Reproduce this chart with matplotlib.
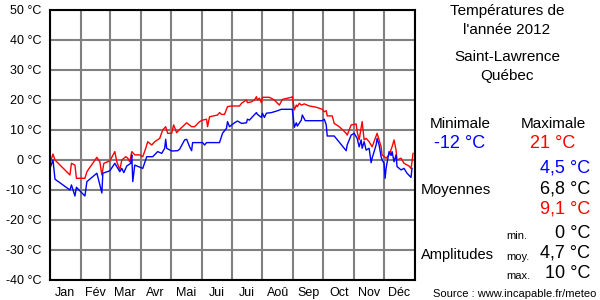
import matplotlib
matplotlib.use("Agg")
import matplotlib.pyplot as plt

plt.rcParams['font.family'] = ['Liberation Sans', 'DejaVu Sans']

# day of year (0 = 1 Jan 2012) and daily temperatures
max_days = [0, 3, 5, 20, 21.5, 25, 26.5, 35, 37, 47, 50, 52, 54, 60, 65, 67, 70, 72,
            76, 78, 80, 82, 85, 90, 93, 96, 98, 102, 105, 110, 113, 116, 118, 122,
            124, 127, 130, 137, 142, 145, 150, 153, 157, 158, 160, 168, 170, 172,
            175, 178, 182, 190, 192, 197, 198, 202, 205, 207, 208, 210, 212, 213,
            220, 225, 230, 233, 242, 243, 245, 247, 248, 250, 252, 255, 260, 267,
            273, 275, 277, 278, 283, 285, 290, 293, 297, 298, 302, 307, 308, 310,
            313, 315, 317, 320, 323, 328, 330, 332, 333, 337, 340, 343, 345, 347,
            348, 352, 355, 360, 362, 363, 364]
max_temp = [-1.1, 2, 0, -5, -1.1, -1.7, -6.1, -6.1, -3.9, 0.9, -0.6, -5, -1.1, -0.3,
            2.8, -0.6, -3.3, 0, 1.1, 0.6, -0.6, 2.8, 1.7, 1.7, 1.1, 3.9, 6.1, 5,
            6.1, 7.2, 10, 11.1, 8.9, 8.9, 11.7, 9.1, 10.2, 12.4, 11.1, 11.1, 12.8,
            13.3, 13.6, 11.1, 14.4, 15, 15.8, 15.2, 15.2, 17.8, 18, 18, 18.9, 20,
            19.1, 19.4, 20, 21.1, 20, 20.6, 19.1, 20.9, 20.9, 20, 18.3, 20.2, 20.9,
            21.1, 16.7, 18.3, 17.8, 18.9, 18.3, 18.7, 18, 17.6, 16.9, 16.1, 16.4,
            14.7, 14.7, 12.2, 11.1, 10.2, 8.9, 8.3, 11.7, 12, 9.4, 6.7, 12.8, 6.7,
            7.2, 6.1, 4.4, 8.9, 6.7, 4.4, 1.7, 0.6, 1.7, 4.4, 6.7, 3.3, 0, 0.6,
            -1.1, -2, -2.8, -0.6, 2.2]

min_days = [0, 3, 5, 20, 21.5, 25, 26.5, 35, 37, 47, 50, 52, 53, 60, 65, 70, 72, 74,
            77, 81, 82, 83, 85, 93, 97, 103, 108, 112, 115, 116, 117, 122, 128, 130,
            135, 137, 140, 142, 143, 153, 155, 157, 170, 173, 177, 178, 180, 185,
            188, 192, 197, 198, 200, 203, 207, 208, 212, 213, 215, 217, 222, 228,
            232, 243, 245, 247, 248, 252, 253, 256, 273, 275, 277, 278, 285, 297,
            298, 302, 305, 308, 310, 312, 313, 315, 317, 320, 322, 323, 327, 328,
            330, 332, 333, 335, 336, 337, 340, 342, 343, 345, 347, 348, 352, 355,
            358, 362, 363]
min_temp = [-2.8, 0, -6.4, -10, -8.3, -12, -9.1, -12, -7.2, -4.4, -8.3, -11, -4.4,
            -3.6, -1.1, -3.9, -2.8, -4.2, -2, -1.1, 1.7, -7.2, -1.7, -2.8, 1.1, 1.1,
            2.8, 2.2, 3.9, 6.9, 3.9, 3, 3.1, 3.6, 6.7, 6.9, 4.4, 3.1, 5.8, 5.8, 5,
            5.8, 5.8, 8.9, 10.6, 12.8, 11.1, 12.4, 13, 12.2, 12.4, 13.6, 13.3, 14.4,
            15.8, 15.2, 14.2, 15.6, 14.2, 15.6, 15.8, 16.4, 16.9, 16.9, 10.9, 12.4,
            11.3, 13.3, 15, 13.1, 13.1, 13.6, 11.7, 8, 8, 3.1, 5, 8.3, 8.9, 7.2,
            4.4, 6.7, 3.9, 6.1, 3.3, 3.9, -0.9, 0.6, 5, 7.2, 5, 1.1, 0, -1.1, -6.1,
            -2.8, 2.8, 1.5, 2.8, -0.6, 1.7, -2.2, -3.3, -2.8, -4.4, -5.8, -2.8]

month_starts = [0, 31, 60, 91, 121, 152, 182, 213, 244, 274, 305, 335, 366]
month_names = ['Jan', 'Fév', 'Mar', 'Avr', 'Mai', 'Jui', 'Jui', 'Aoû', 'Sep',
               'Oct', 'Nov', 'Déc']
y_ticks = list(range(-40, 51, 10))

fig = plt.figure(figsize=(6, 3), dpi=100)
ax = fig.add_axes([50 / 600, 20 / 300, 365 / 600, 270 / 300])

ax.plot(max_days, max_temp, color='#ff0000', lw=1, zorder=3)
ax.plot(min_days, min_temp, color='#0000ff', lw=1, zorder=3)

ax.set_xlim(0, 366)
ax.set_ylim(-40, 50)
ax.set_yticks(y_ticks)
ax.set_yticklabels(['%d °C' % t for t in y_ticks])
ax.set_xticks(month_starts)
ax.set_xticklabels([])
mids = [(month_starts[i] + month_starts[i + 1]) / 2 for i in range(12)]
ax.set_xticks(mids, minor=True)
ax.set_xticklabels(month_names, minor=True)
ax.tick_params(which='both', length=0, labelsize=9, colors='black')
ax.tick_params(axis='y', pad=6)
ax.tick_params(axis='x', which='minor', pad=5)
ax.grid(True, which='major', color='#808080', lw=1.5)
for s in ax.spines.values():
    s.set_color('black')
    s.set_linewidth(1.5)
    s.set_zorder(4)


def px(x, y):
    return x / 600, 1 - y / 300


fig.text(*px(507, 11), 'Températures de', fontsize=11, ha='center', va='center')
fig.text(*px(507, 30), "l'année 2012", fontsize=11, ha='center', va='center')
fig.text(*px(507, 57), 'Saint-Lawrence', fontsize=11, ha='center', va='center')
fig.text(*px(507, 76), 'Québec', fontsize=11, ha='center', va='center')

fig.text(*px(460, 124), 'Minimale', fontsize=11, ha='center', va='center')
fig.text(*px(553, 124), 'Maximale', fontsize=11, ha='center', va='center')
fig.text(*px(460, 143), '-12 °C', fontsize=13, color='#0000ff', ha='center', va='center')
fig.text(*px(553, 143), '21 °C', fontsize=13, color='#ff0000', ha='center', va='center')

fig.text(*px(590, 168), '4,5 °C', fontsize=13, color='#0000ff', ha='right', va='center')
fig.text(*px(590, 189), '6,8 °C', fontsize=13, color='black', ha='right', va='center')
fig.text(*px(590, 209), '9,1 °C', fontsize=13, color='#ff0000', ha='right', va='center')
fig.text(*px(421, 190), 'Moyennes', fontsize=11, ha='left', va='center')

fig.text(*px(590, 233), '0 °C', fontsize=13, ha='right', va='center')
fig.text(*px(590, 253), '4,7 °C', fontsize=13, ha='right', va='center')
fig.text(*px(590, 273), '10 °C', fontsize=13, ha='right', va='center')
fig.text(*px(506, 236), 'min.', fontsize=8, ha='left', va='center')
fig.text(*px(506, 257), 'moy.', fontsize=8, ha='left', va='center')
fig.text(*px(506, 276), 'max.', fontsize=8, ha='left', va='center')
fig.text(*px(421, 255), 'Amplitudes', fontsize=10.5, ha='left', va='center')

fig.text(*px(596, 294), 'Source : www.incapable.fr/meteo', fontsize=8,
         ha='right', va='center')

fig.savefig('out.png', dpi=100)
